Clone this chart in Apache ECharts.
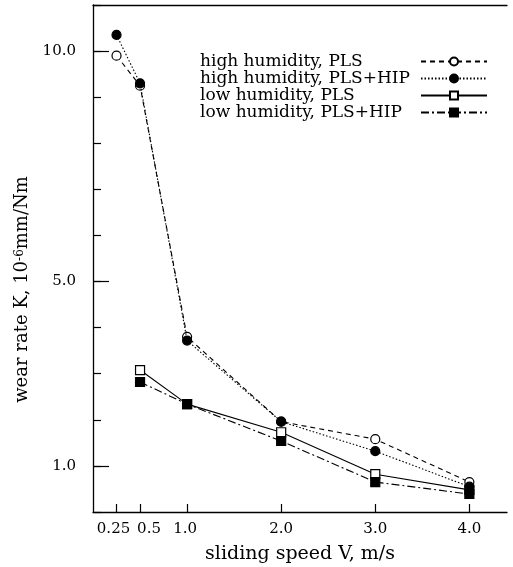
<!DOCTYPE html>
<html>
<head>
<meta charset="utf-8">
<script src="https://cdn.jsdelivr.net/npm/echarts@6/dist/echarts.min.js"></script>
<style>
  html, body { margin: 0; padding: 0; background: #fff; }
  #main { width: 513px; height: 567px; }
</style>
</head>
<body>
<div id="main"></div>
<script>
// sliding speed V, m/s
var speeds = [0.25, 0.5, 1.0, 2.0, 3.0, 4.0];
var speedsLow = [0.5, 1.0, 2.0, 3.0, 4.0];
// wear rate K, 10^-6 mm/Nm
var highPLS = [9.9, 9.25, 3.8, 1.96, 1.58, 0.65];
var highPLSHIP = [10.35, 9.3, 3.72, 1.96, 1.32, 0.55];
var lowPLS = [3.08, 2.34, 1.73, 0.82, 0.48];
var lowPLSHIP = [2.82, 2.34, 1.54, 0.65, 0.39];
var xTicks = [0.25, 0.5, 1.0, 2.0, 3.0, 4.0];
var yLabels = [1, 5, 10];
var names = ['high humidity, PLS', 'high humidity, PLS+HIP', 'low humidity, PLS', 'low humidity, PLS+HIP'];

function pairs(xs, ys) {
  return xs.map(function (x, i) { return [x, ys[i]]; });
}

var font = 'DejaVu Serif';
var dom = document.getElementById('main');
var myChart = echarts.init(dom, null, { renderer: 'canvas' });

function mk(name, xs, ys, symbol, filled, dash) {
  return {
    name: name,
    type: 'line',
    data: pairs(xs, ys),
    symbol: symbol,
    symbolSize: 9,
    showSymbol: true,
    itemStyle: { color: filled ? '#000' : '#fff', borderColor: '#000', borderWidth: 1.2 },
    lineStyle: { color: '#000', width: 1.1, type: dash },
    z: filled ? 3 : 2,
    animation: false
  };
}

var option = {
  backgroundColor: '#fff',
  grid: { left: 93, right: 6, top: 5, bottom: 55, outerBoundsMode: 'none' },
  legend: {
    orient: 'vertical',
    left: 195,
    top: 48,
    align: 'right',
    itemGap: 0,
    itemWidth: 66,
    itemHeight: 10,
    selectedMode: false,
    formatter: '{t|{name}}',
    textStyle: {
      fontFamily: font, fontSize: 17, lineHeight: 17, color: '#000',
      rich: { t: { fontFamily: font, fontSize: 17, lineHeight: 17, color: '#000', width: 216, align: 'left' } }
    },
    data: names
  },
  xAxis: [{
    type: 'value',
    min: 0,
    max: 4.4,
    name: 'sliding speed V, m/s',
    nameLocation: 'middle',
    nameGap: 33,
    nameTextStyle: { fontFamily: font, fontSize: 19, color: '#000' },
    axisLine: { show: true, onZero: false, lineStyle: { color: '#000', width: 1.3 } },
    axisTick: { show: true, inside: true, length: 8, customValues: xTicks, lineStyle: { color: '#000', width: 1.2 } },
    axisLabel: {
      customValues: xTicks,
      hideOverlap: false,
      showMinLabel: true,
      margin: 10,
      fontFamily: font,
      fontSize: 15,
      color: '#000',
      formatter: function (v) {
        if (v === 0.25) return '{a|0.25}';
        if (v === 0.5) return '{b|0.5}';
        if (v === 1) return '{c|1.0}';
        return v.toFixed(1);
      },
      rich: {
        a: { fontFamily: font, fontSize: 15, color: '#000', padding: [0, 6, 0, 0] },
        b: { fontFamily: font, fontSize: 15, color: '#000', padding: [0, 0, 0, 18] },
        c: { fontFamily: font, fontSize: 15, color: '#000', padding: [0, 4, 0, 0] }
      }
    },
    splitLine: { show: false }
  }, {
    type: 'value',
    position: 'top',
    min: 0,
    max: 4.4,
    axisLine: { show: true, onZero: false, lineStyle: { color: '#000', width: 1.3 } },
    axisTick: { show: false },
    axisLabel: { show: false },
    splitLine: { show: false }
  }],
  yAxis: [{
    type: 'value',
    min: 0,
    max: 11,
    interval: 1,
    name: 'wear rate K, 10{sup|-6}mm/Nm',
    nameLocation: 'middle',
    nameGap: 55,
    nameTextStyle: {
      fontFamily: font,
      fontSize: 18,
      color: '#000',
      padding: [0, 62, 0, 0],
      rich: { sup: { fontFamily: font, fontSize: 12, verticalAlign: 'top', color: '#000' } }
    },
    axisLine: { show: true, onZero: false, lineStyle: { color: '#000', width: 1.3 } },
    axisTick: { show: true, inside: true, length: 16, customValues: yLabels, lineStyle: { color: '#000', width: 1.2 } },
    axisLabel: {
      customValues: yLabels,
      margin: 17,
      fontFamily: font,
      fontSize: 15,
      color: '#000',
      formatter: function (v) { return v.toFixed(1); }
    },
    splitLine: { show: false }
  }, {
    type: 'value',
    position: 'left',
    min: 0,
    max: 11,
    interval: 1,
    axisLine: { show: false },
    axisTick: { show: true, inside: true, length: 8, lineStyle: { color: '#000', width: 1.2 } },
    axisLabel: { show: false },
    splitLine: { show: false }
  }],
  series: [
    mk(names[0], speeds, highPLS, 'circle', false, [5, 4]),
    mk(names[1], speeds, highPLSHIP, 'circle', true, [1.5, 2]),
    mk(names[2], speedsLow, lowPLS, 'rect', false, 'solid'),
    mk(names[3], speedsLow, lowPLSHIP, 'rect', true, [8, 3, 2, 3])
  ]
};

myChart.setOption(option);
window.addEventListener('resize', myChart.resize);
</script>
</body>
</html>
